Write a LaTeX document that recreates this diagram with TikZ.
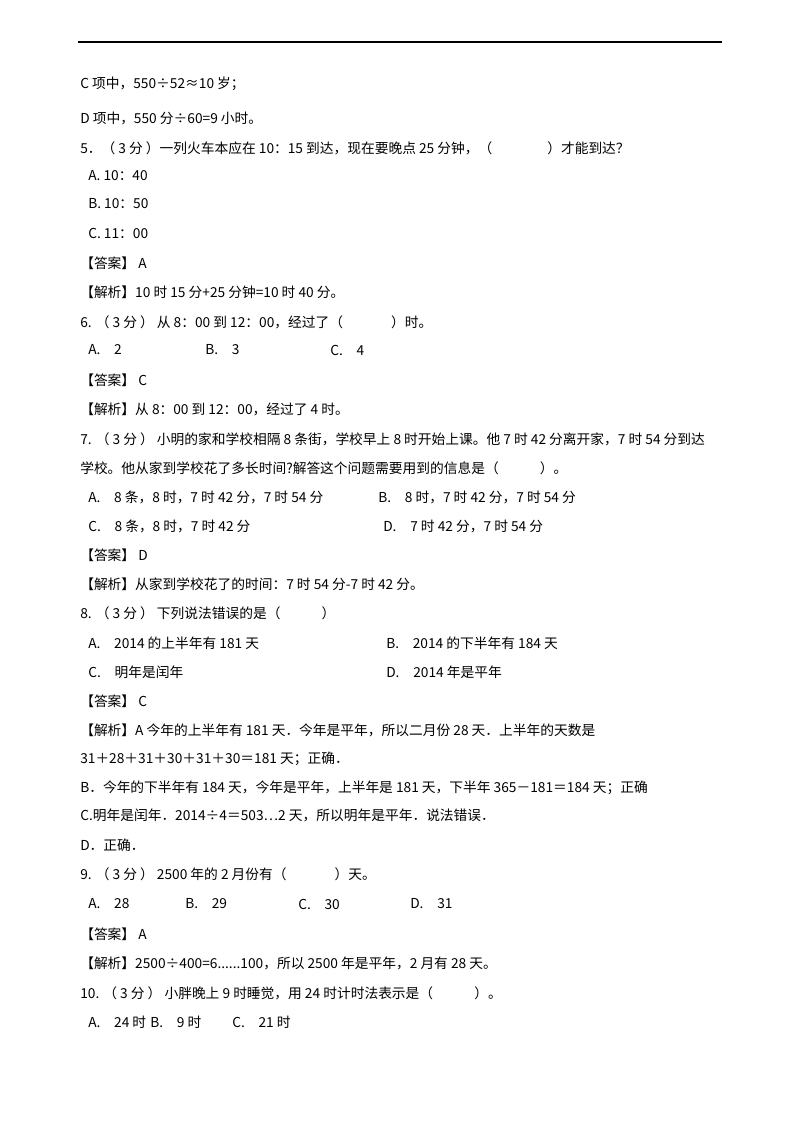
\documentclass[tikz,border=0pt]{standalone}
\usepackage{fontspec}
\setmainfont{Noto Sans CJK SC}
\begin{document}
\begin{tikzpicture}[x=0.75pt,y=-0.75pt,
  t/.style={anchor=west,inner sep=0pt,font=\fontsize{10.3}{12}\selectfont}]
\useasboundingbox[fill=white] (0,0) rectangle (800,1132);
\draw[line width=0.8pt] (78,42) -- (722,42);
\node[t] (l1) at (80,84) {C 项中，550÷52≈10 岁；};
\node[t] (l2) at (80,118) {D 项中，550 分÷60=9 小时。};
\node[t] (l3) at (80,148) {5．（ 3 分 ）一列火车本应在 10：15 到达，现在要晚点 25 分钟，（\hspace{4em}）才能到达？};
\node[t] (l4) at (88,176) {A. 10：40};
\node[t] (l5) at (88,204) {B. 10：50};
\node[t] (l6) at (88,233) {C. 11：00};
\node[t] (l7) at (80,263) {【答案】 A};
\node[t] (l8) at (80,292) {【解析】10 时 15 分+25 分钟=10 时 40 分。};
\node[t] (l9) at (80,322) {6. （ 3 分 ） 从 8：00 到 12：00，经过了（\hspace{3.5em}）时。};
\node[t] (l10a) at (88,350) {A.\quad 2};
\node[t] (l10b) at (205,350) {B.\quad 3};
\node[t] (l10c) at (330,350) {C.\quad 4};
\node[t] (l11) at (80,380) {【答案】 C};
\node[t] (l12) at (80,409) {【解析】从 8：00 到 12：00，经过了 4 时。};
\node[t] (l13) at (80,439) {7. （ 3 分 ） 小明的家和学校相隔 8 条街，学校早上 8 时开始上课。他 7 时 42 分离开家，7 时 54 分到达};
\node[t] (l14) at (80,468) {学校。他从家到学校花了多长时间?解答这个问题需要用到的信息是（\hspace{3em}）。};
\node[t] (l15a) at (88,497) {A.\quad 8 条，8 时，7 时 42 分，7 时 54 分};
\node[t] (l15b) at (378,497) {B.\quad 8 时，7 时 42 分，7 时 54 分};
\node[t] (l16a) at (88,526) {C.\quad 8 条，8 时，7 时 42 分};
\node[t] (l16b) at (383,526) {D.\quad 7 时 42 分，7 时 54 分};
\node[t] (l17) at (80,555) {【答案】 D};
\node[t] (l18) at (80,584) {【解析】从家到学校花了的时间：7 时 54 分-7 时 42 分。};
\node[t] (l19) at (80,613) {8. （ 3 分 ） 下列说法错误的是（\hspace{3em}）};
\node[t] (l20a) at (88,643) {A.\quad 2014 的上半年有 181 天};
\node[t] (l20b) at (386,643) {B.\quad 2014 的下半年有 184 天};
\node[t] (l21a) at (88,672) {C.\quad 明年是闰年};
\node[t] (l21b) at (386,672) {D.\quad 2014 年是平年};
\node[t] (l22) at (80,701) {【答案】 C};
\node[t] (l23) at (80,730) {【解析】A 今年的上半年有 181 天．今年是平年，所以二月份 28 天．上半年的天数是};
\node[t] (l24) at (80,759) {31＋28＋31＋30＋31＋30＝181 天；正确．};
\node[t] (l25) at (80,788) {B．今年的下半年有 184 天，今年是平年，上半年是 181 天，下半年 365－181＝184 天；正确};
\node[t] (l26) at (80,815) {C.明年是闰年．2014÷4＝503…2 天，所以明年是平年．说法错误．};
\node[t] (l27) at (80,845) {D．正确．};
\node[t] (l28) at (80,874) {9. （ 3 分 ） 2500 年的 2 月份有（\hspace{3.5em}）天。};
\node[t] (l29a) at (88,904) {A.\quad 28};
\node[t] (l29b) at (185,904) {B.\quad 29};
\node[t] (l29c) at (298,904) {C.\quad 30};
\node[t] (l29d) at (410,904) {D.\quad 31};
\node[t] (l30) at (80,934) {【答案】 A};
\node[t] (l31) at (80,963) {【解析】2500÷400=6......100，所以 2500 年是平年，2 月有 28 天。};
\node[t] (l32) at (80,993) {10. （ 3 分 ） 小胖晚上 9 时睡觉，用 24 时计时法表示是（\hspace{3em}）。};
\node[t] (l33a) at (88,1022) {A.\quad 24 时};
\node[t] (l33b) at (150,1022) {B.\quad 9 时};
\node[t] (l33c) at (232,1022) {C.\quad 21 时};
\end{tikzpicture}
\end{document}
